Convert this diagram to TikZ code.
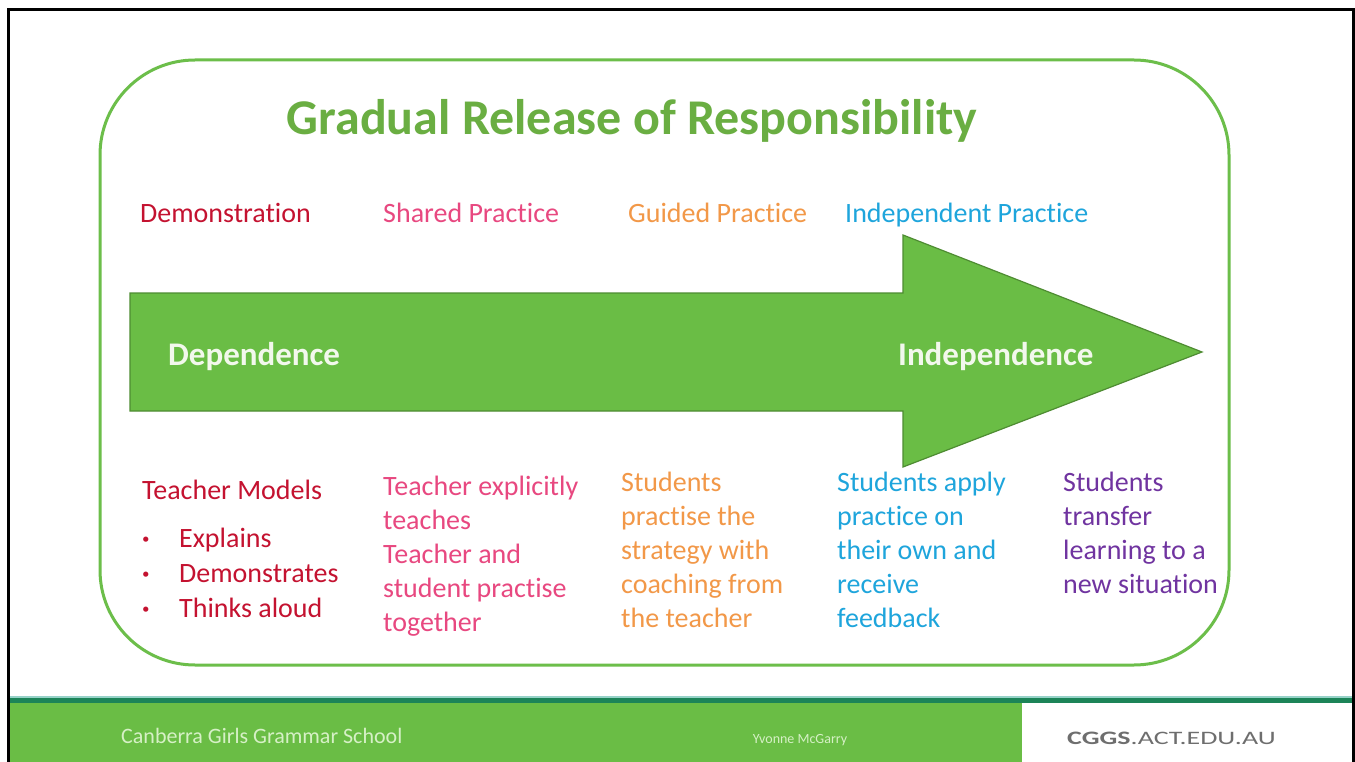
\documentclass[tikz,border=0pt]{standalone}
\usepackage{fontspec}
\setmainfont{Carlito}[Ligatures=NoCommon]
\usetikzlibrary{positioning}

\definecolor{framegreen}{RGB}{108,190,74}
\definecolor{titlegreen}{RGB}{106,174,66}
\definecolor{arrowgreen}{RGB}{106,189,69}
\definecolor{arrowedge}{RGB}{78,140,50}
\definecolor{bandgreen}{RGB}{106,189,69}
\definecolor{banddark}{RGB}{28,132,88}
\definecolor{bandline}{RGB}{150,210,200}
\definecolor{bandtext}{RGB}{214,240,198}
\definecolor{webgray}{RGB}{110,110,110}
\definecolor{demored}{RGB}{196,18,48}
\definecolor{sharedpink}{RGB}{232,72,128}
\definecolor{guidedorange}{RGB}{242,152,72}
\definecolor{indepblue}{RGB}{30,165,220}
\definecolor{transpurple}{RGB}{112,52,160}
\definecolor{arrowtext}{RGB}{242,248,236}

\newcommand{\bul}{\makebox[37pt][l]{\textbf{·}}}

\tikzset{
  stage/.style={anchor=base west, inner sep=0pt, font=\fontsize{28}{34}\selectfont},
  column/.style={anchor=north west, inner sep=0pt, align=left, font=\fontsize{28}{34}\selectfont},
  pole/.style={anchor=base west, inner sep=0pt, text=arrowtext, font=\fontsize{33}{39}\selectfont\bfseries},
}

\begin{document}
\begin{tikzpicture}[x=1pt, y=-1pt]
    \useasboundingbox (0,0) rectangle (1355,762);
    \fill[white] (0,0) rectangle (1355,762);

    % footer band
    \fill[bandgreen] (9,703) rectangle (1022,762);
    \fill[bandline] (9,696) rectangle (1352,698);
    \fill[banddark] (9,698) rectangle (1352,703);
    \node[anchor=base west, inner sep=0pt, text=bandtext, font=\fontsize{22}{26}\selectfont] (school) at (121,743) {Canberra Girls Grammar School};
    \node[anchor=base, inner sep=0pt, text=bandtext, font=\fontsize{14}{17}\selectfont] (author) at (800,743) {Yvonne McGarry};
    \node[anchor=base west, inner sep=0pt, text=webgray, font=\fontsize{19}{22}\selectfont\addfontfeature{FakeStretch=1.47}] (web) at (1067,744) {\textbf{CGGS}.ACT.EDU.AU};

    \draw[line width=3pt] (8,762) -- (8,10) -- (1353,10) -- (1353,762);

    \draw[framegreen, line width=3pt, rounded corners=95pt] (100,60) rectangle (1229,665);
    \node[anchor=base, inner sep=0pt, text=titlegreen, font=\fontsize{50}{56}\selectfont\bfseries] (title) at (632,135) {Gradual Release of Responsibility};

    % the big arrow
    \draw[fill=arrowgreen, draw=arrowedge, line width=1.2pt, line join=miter]
      (130,293) -- (903,293) -- (903,235) -- (1202,352) -- (903,467) -- (903,411) -- (130,411) -- cycle;
    \node[pole] (dep) at (168,365) {Dependence};
    \node[pole] (indep) at (898,365) {Independence};

    \node[stage, text=demored] (demo) at (140,223) {Demonstration};
    \node[stage, text=sharedpink] (shared) at (383,223) {Shared Practice};
    \node[stage, text=guidedorange] (guided) at (628,223) {Guided Practice};
    \node[stage, text=indepblue] (independent) at (845,223) {Independent Practice};

    \node[column, text=demored, font=\fontsize{28}{35}\selectfont] (models) at (142,480)
      {Teacher Models\\[13pt] \bul Explains\\ \bul Demonstrates\\ \bul Thinks aloud};
    \node[column, text=sharedpink] (explicit) at (383,476)
      {Teacher explicitly\\ teaches\\ Teacher and\\ student practise\\ together};
    \node[column, text=guidedorange] (coaching) at (621,472)
      {Students\\ practise the\\ strategy with\\ coaching from\\ the teacher};
    \node[column, text=indepblue] (apply) at (837,472)
      {Students apply\\ practice on\\ their own and\\ receive\\ feedback};
    \node[column, text=transpurple] (transfer) at (1063,472)
      {Students\\ transfer\\ learning to a\\ new situation};
\end{tikzpicture}
\end{document}
